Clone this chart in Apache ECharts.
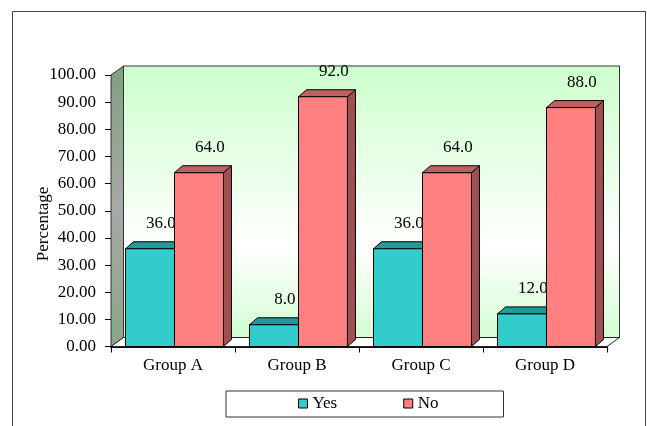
<!DOCTYPE html>
<html>
<head>
<meta charset="utf-8">
<script src="https://cdn.jsdelivr.net/npm/echarts@6/dist/echarts.min.js"></script>
<style>
html,body{margin:0;padding:0;background:#fff;}
#chart{width:647px;height:426px;}
</style>
</head>
<body>
<div id="chart"></div>
<script>
const categories = ['Group A', 'Group B', 'Group C', 'Group D'];
const yesValues = [36.0, 8.0, 36.0, 12.0];
const noValues = [64.0, 92.0, 64.0, 88.0];
const seriesNames = ['Yes', 'No'];
const yTicks = { min: 0, max: 100, interval: 10 };

const FONT = 'Liberation Serif, Times New Roman, serif';
const FS = 17;
const WALL_DX = 12.5, WALL_DY = 9;
const BAR_DX = 8, BAR_DY = 7;

const chart = echarts.init(document.getElementById('chart'));

function wallsRender(params, api) {
  const cs = params.coordSys;
  const x = cs.x, y = cs.y, w = cs.width, h = cs.height;
  return {
    type: 'group',
    children: [
      { type: 'rect', shape: { x: x + WALL_DX, y: y - WALL_DY, width: w, height: h },
        style: { fill: new echarts.graphic.LinearGradient(0, 0, 0, 1, [
          { offset: 0, color: '#ccffcc' }, { offset: 0.66, color: '#ffffff' }, { offset: 1, color: '#d2fdd2' }]),
          stroke: '#333', lineWidth: 1 } },
      { type: 'polygon', shape: { points: [[x, y], [x + WALL_DX, y - WALL_DY], [x + WALL_DX, y + h - WALL_DY], [x, y + h]] },
        style: { fill: new echarts.graphic.LinearGradient(0, 0, 0, 1, [
          { offset: 0, color: '#80a080' }, { offset: 0.5, color: '#a8a8a8' }, { offset: 1, color: '#86a886' }]),
          stroke: '#333', lineWidth: 1 } },
      { type: 'polygon', shape: { points: [[x, y + h], [x + WALL_DX, y + h - WALL_DY], [x + w + WALL_DX, y + h - WALL_DY], [x + w, y + h]] },
        style: { fill: '#ffffff', stroke: '#222', lineWidth: 1 } }
    ]
  };
}

function makeBarRender(offsetFrac, faceColor, topColor, sideColor) {
  return function (params, api) {
    const i = api.value(0), v = api.value(1);
    const base = api.coord([i, 0]);
    const top = api.coord([i, v]);
    const band = api.size([1, 0])[0];
    const bw = band * 0.395;
    const x0 = base[0] + band * offsetFrac;
    const x1 = x0 + bw;
    const yt = top[1], yb = base[1];
    const stroke = { stroke: '#000', lineWidth: 1 };
    return {
      type: 'group',
      children: [
        { type: 'polygon', shape: { points: [[x1, yt], [x1 + BAR_DX, yt - BAR_DY], [x1 + BAR_DX, yb - BAR_DY], [x1, yb]] },
          style: Object.assign({ fill: sideColor }, stroke) },
        { type: 'polygon', shape: { points: [[x0, yt], [x0 + BAR_DX, yt - BAR_DY], [x1 + BAR_DX, yt - BAR_DY], [x1, yt]] },
          style: Object.assign({ fill: topColor }, stroke) },
        { type: 'rect', shape: { x: x0, y: yt, width: bw, height: yb - yt },
          style: Object.assign({ fill: faceColor }, stroke) },
        { type: 'text', x: (x0 + x1) / 2 + 11, y: yt - 25,
          style: { text: v.toFixed(1), font: FS + 'px ' + FONT, fill: '#000', align: 'center', verticalAlign: 'middle' } }
      ]
    };
  };
}

const option = {
  backgroundColor: '#ffffff',
  animation: false,
  grid: { left: 111, top: 75, width: 496, height: 271.5 },
  xAxis: {
    type: 'category',
    data: categories,
    boundaryGap: true,
    axisLine: { show: true, lineStyle: { color: '#111', width: 2 } },
    axisTick: { show: true, length: 6, lineStyle: { color: '#000' } },
    axisLabel: { color: '#000', fontSize: FS, fontFamily: FONT, margin: 11 },
    splitLine: { show: false }
  },
  yAxis: {
    type: 'value',
    min: yTicks.min, max: yTicks.max, interval: yTicks.interval,
    axisLine: { show: true, lineStyle: { color: '#222' } },
    axisTick: { show: true, length: 6, lineStyle: { color: '#000' } },
    axisLabel: { color: '#000', fontSize: FS, fontFamily: FONT, margin: 15, formatter: v => v.toFixed(2) },
    splitLine: { show: false }
  },
  legend: {
    left: 226, top: 391,
    padding: [4, 65, 5, 72],
    itemGap: 66,
    itemWidth: 9, itemHeight: 9,
    borderColor: '#333', borderWidth: 1,
    textStyle: { color: '#000', fontSize: FS, fontFamily: FONT },
    data: [
      { name: seriesNames[0], icon: 'rect', itemStyle: { color: '#33cccc', borderColor: '#000', borderWidth: 1 } },
      { name: seriesNames[1], icon: 'rect', itemStyle: { color: '#ff8080', borderColor: '#000', borderWidth: 1 } }
    ]
  },
  graphic: [
    { type: 'rect', shape: { x: 12.5, y: 11.5, width: 633, height: 430 }, style: { fill: 'none', stroke: '#444', lineWidth: 1 }, z: 100 },
    { type: 'text', x: 44, y: 224, rotation: Math.PI / 2,
      style: { text: 'Percentage', font: FS + 'px ' + FONT, fill: '#000', align: 'center', verticalAlign: 'middle' } }
  ],
  series: [
    { type: 'custom', name: 'walls', z: 1, silent: true, clip: false, data: [[0, 0]], renderItem: wallsRender },
    { type: 'custom', name: seriesNames[0], z: 2, clip: false, itemStyle: { color: '#33cccc' },
      data: yesValues.map((v, i) => [i, v]), renderItem: makeBarRender(-0.383, '#33cccc', '#249999', '#1e8080') },
    { type: 'custom', name: seriesNames[1], z: 3, clip: false, itemStyle: { color: '#ff8080' },
      data: noValues.map((v, i) => [i, v]), renderItem: makeBarRender(0.012, '#ff8080', '#c06060', '#a05050') }
  ]
};
chart.setOption(option);
</script>
</body>
</html>
